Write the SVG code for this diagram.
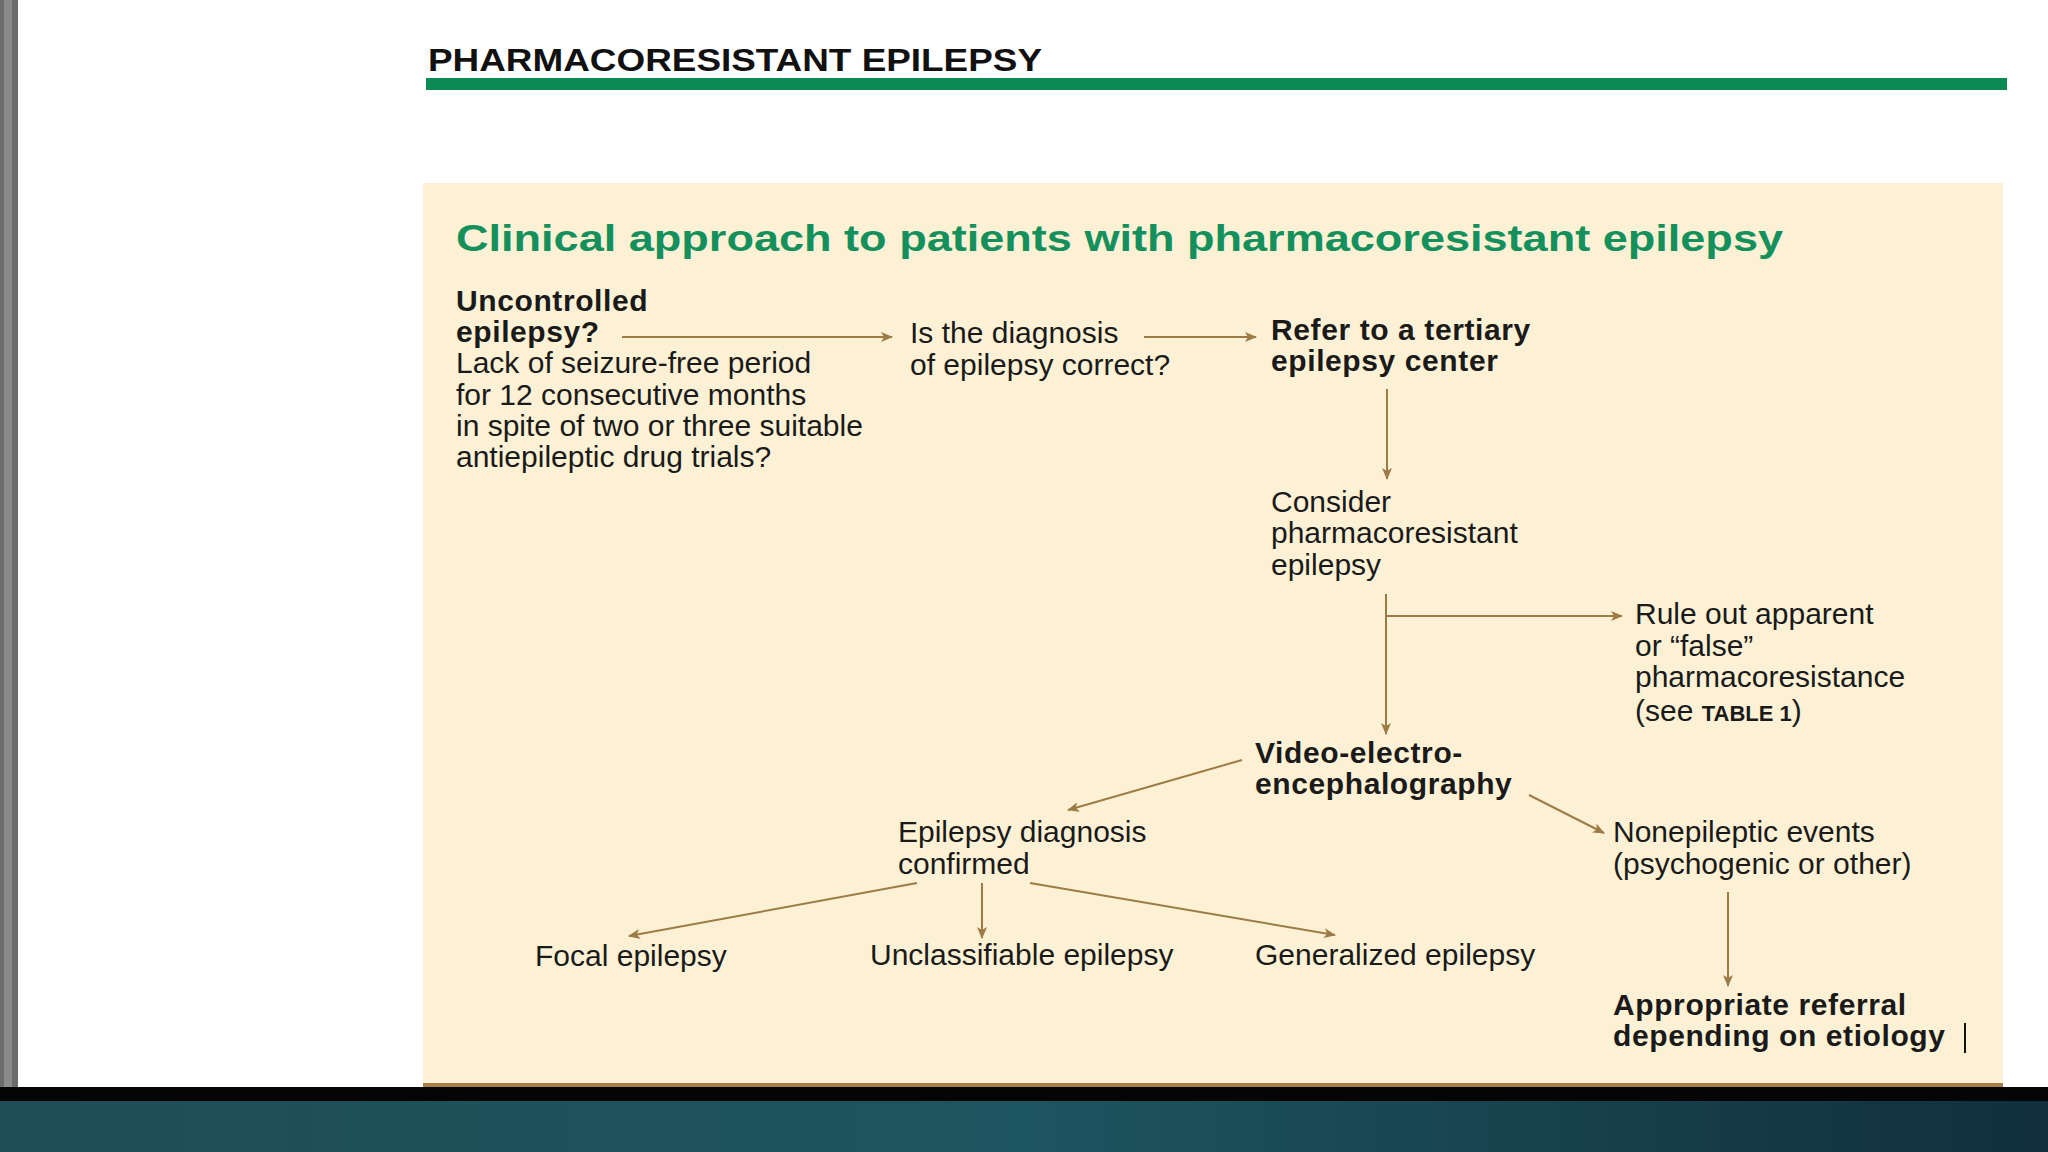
<svg xmlns="http://www.w3.org/2000/svg" width="2048" height="1152" viewBox="0 0 2048 1152">
<defs>
<linearGradient id="teal" x1="0" y1="0" x2="1" y2="0"><stop offset="0" stop-color="#1f4d55"/><stop offset="0.5" stop-color="#1d5560"/><stop offset="1" stop-color="#112f3c"/></linearGradient>
<marker id="ah" viewBox="0 0 12 10" refX="11" refY="5" markerWidth="12" markerHeight="10" markerUnits="userSpaceOnUse" orient="auto"><path d="M0,0 L12,5 L0,10 L3,5 Z" fill="#9c7b45"/></marker>
</defs>
<style>
.t{font-family:"Liberation Sans",Arial,sans-serif;font-size:30px;fill:#1a1a1a}
.b{font-weight:bold;font-size:30px;letter-spacing:0.6px}
.c{stroke:#9c7b45;stroke-width:2;fill:none;marker-end:url(#ah)}
</style>
<rect width="2048" height="1152" fill="#ffffff"/>
<rect x="0" y="0" width="18" height="1090" fill="#6b6b6b"/>
<rect x="4" y="0" width="8" height="1090" fill="#8a8a8a"/>
<rect x="0" y="1087" width="2048" height="14" fill="#050505"/>
<rect x="0" y="1101" width="2048" height="51" fill="url(#teal)"/>
<text x="428" y="71" font-family="Liberation Sans,Arial,sans-serif" font-weight="bold" font-size="31" fill="#111" textLength="614" lengthAdjust="spacingAndGlyphs">PHARMACORESISTANT EPILEPSY</text>
<rect x="426" y="78" width="1581" height="12" fill="#0a8a55"/>
<rect x="423" y="183" width="1580" height="901" fill="#fdf1d5"/>
<rect x="423" y="1083" width="1580" height="4" fill="#a57f45"/>
<text x="456" y="251" font-family="Liberation Sans,Arial,sans-serif" font-weight="bold" font-size="36" fill="#14905c" textLength="1327" lengthAdjust="spacingAndGlyphs">Clinical approach to patients with pharmacoresistant epilepsy</text>
<g id="connectors">
<line class="c" x1="622" y1="337" x2="892" y2="337"/>
<line class="c" x1="1144" y1="337" x2="1256" y2="337"/>
<line class="c" x1="1387" y1="389" x2="1387" y2="479"/>
<line class="c" x1="1386" y1="594" x2="1386" y2="734"/>
<line class="c" x1="1386" y1="616" x2="1622" y2="616"/>
<line class="c" x1="1242" y1="760" x2="1068" y2="810"/>
<line class="c" x1="1529" y1="795" x2="1604" y2="833"/>
<line class="c" x1="1728" y1="892" x2="1728" y2="986"/>
<line class="c" x1="917" y1="883" x2="629" y2="936"/>
<line class="c" x1="982" y1="883" x2="982" y2="938"/>
<line class="c" x1="1030" y1="883" x2="1335" y2="935"/>
</g>
<g id="uncontrolled">
<text class="t b" x="456" y="311">Uncontrolled</text>
<text class="t b" x="456" y="342">epilepsy?</text>
<text class="t" x="456" y="373">Lack of seizure-free period</text>
<text class="t" x="456" y="405">for 12 consecutive months</text>
<text class="t" x="456" y="436">in spite of two or three suitable</text>
<text class="t" x="456" y="467">antiepileptic drug trials?</text>
</g>
<g id="diagnosis">
<text class="t" x="910" y="343">Is the diagnosis</text>
<text class="t" x="910" y="375">of epilepsy correct?</text>
</g>
<g id="refer">
<text class="t b" x="1271" y="340">Refer to a tertiary</text>
<text class="t b" x="1271" y="371">epilepsy center</text>
</g>
<g id="consider">
<text class="t" x="1271" y="512">Consider</text>
<text class="t" x="1271" y="543">pharmacoresistant</text>
<text class="t" x="1271" y="575">epilepsy</text>
</g>
<g id="ruleout">
<text class="t" x="1635" y="624">Rule out apparent</text>
<text class="t" x="1635" y="656">or “false”</text>
<text class="t" x="1635" y="687">pharmacoresistance</text>
<text class="t" x="1635" y="721">(see <tspan font-weight="bold" font-size="22">TABLE 1</tspan>)</text>
</g>
<g id="veeg">
<text class="t b" x="1255" y="763">Video-electro-</text>
<text class="t b" x="1255" y="794">encephalography</text>
</g>
<g id="confirmed">
<text class="t" x="898" y="842">Epilepsy diagnosis</text>
<text class="t" x="898" y="874">confirmed</text>
</g>
<g id="nonepileptic">
<text class="t" x="1613" y="842">Nonepileptic events</text>
<text class="t" x="1613" y="874">(psychogenic or other)</text>
</g>
<g id="referral">
<text class="t b" x="1613" y="1015">Appropriate referral</text>
<text class="t b" x="1613" y="1046">depending on etiology</text>
<line x1="1965" y1="1023" x2="1965" y2="1053" stroke="#111" stroke-width="2"/>
</g>
<g id="focal"><text class="t" x="535" y="966">Focal epilepsy</text></g>
<g id="unclassifiable"><text class="t" x="870" y="965">Unclassifiable epilepsy</text></g>
<g id="generalized"><text class="t" x="1255" y="965">Generalized epilepsy</text></g>
</svg>
